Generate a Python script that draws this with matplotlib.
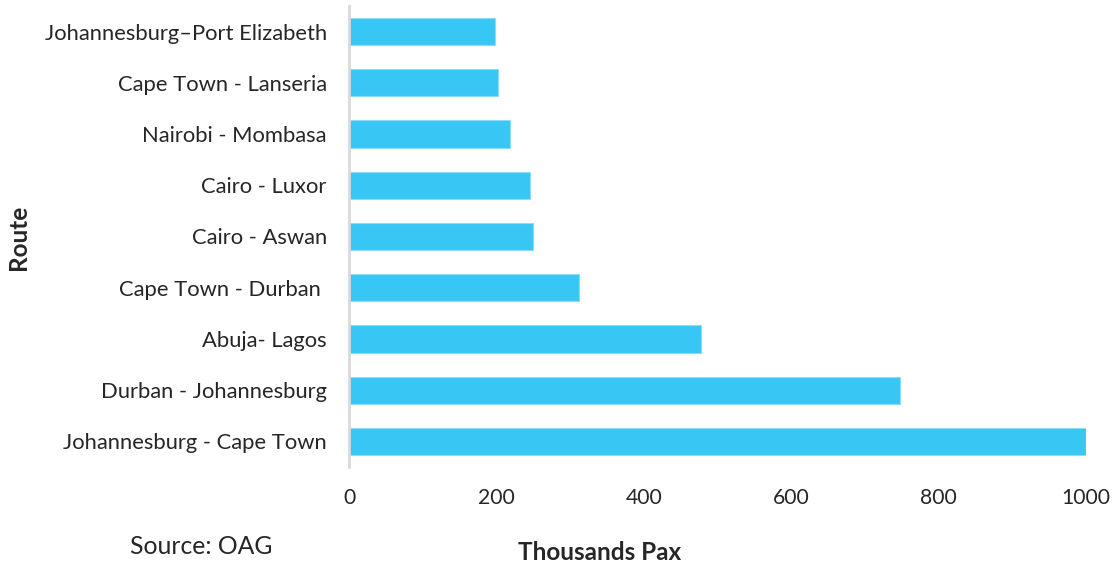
import matplotlib
matplotlib.use("Agg")
import matplotlib.pyplot as plt

# Busiest domestic air routes in Africa (thousands of passengers)
routes = [
    "Johannesburg - Cape Town",
    "Durban - Johannesburg",
    "Abuja- Lagos",
    "Cape Town - Durban ",
    "Cairo - Aswan",
    "Cairo - Luxor",
    "Nairobi - Mombasa",
    "Cape Town - Lanseria",
    "Johannesburg\u2013Port Elizabeth",
]
pax_thousands = [1000, 747, 477, 312, 249, 246, 219, 202, 198]
x_ticks = [0, 200, 400, 600, 800, 1000]

plt.rcParams["font.family"] = ["Lato", "DejaVu Sans"]
text_color = "#262626"
bar_color = "#38C6F4"

fig = plt.figure(figsize=(11.17, 5.67), dpi=100)
ax = fig.add_axes([349 / 1117, 1 - 467 / 567, (1086 - 349) / 1117, (467 - 6) / 567])

ypos = list(range(len(routes)))
ax.barh(ypos, pax_thousands, height=0.53, color=bar_color,
        edgecolor="#8ADDF8", linewidth=0.8, zorder=2)

ax.set_xlim(0, 1000)
ax.set_ylim(-0.5, len(routes) - 0.5)
ax.set_yticks(ypos)
ax.set_yticklabels(routes, fontsize=15.8, color=text_color)
ax.set_xticks(x_ticks)
ax.set_xticklabels([str(t) for t in x_ticks], fontsize=15.2, color=text_color)
ax.tick_params(axis="both", length=0)
ax.tick_params(axis="y", pad=16)
ax.tick_params(axis="x", pad=15)

for side in ["top", "right", "bottom"]:
    ax.spines[side].set_visible(False)
ax.spines["left"].set_color("#D9D9D9")
ax.spines["left"].set_linewidth(2)

fig.text(18 / 1117, 1 - 237 / 567, "Route", rotation=90, ha="center", va="center",
         fontsize=17.5, fontweight="bold", color=text_color)
fig.text(600 / 1117, 1 - 552 / 567, "Thousands Pax", ha="center", va="center",
         fontsize=17.5, fontweight="bold", color=text_color)
fig.text(130 / 1117, 1 - 547 / 567, "Source: OAG", ha="left", va="center",
         fontsize=17.8, color=text_color)

fig.savefig("out.png", dpi=100)
